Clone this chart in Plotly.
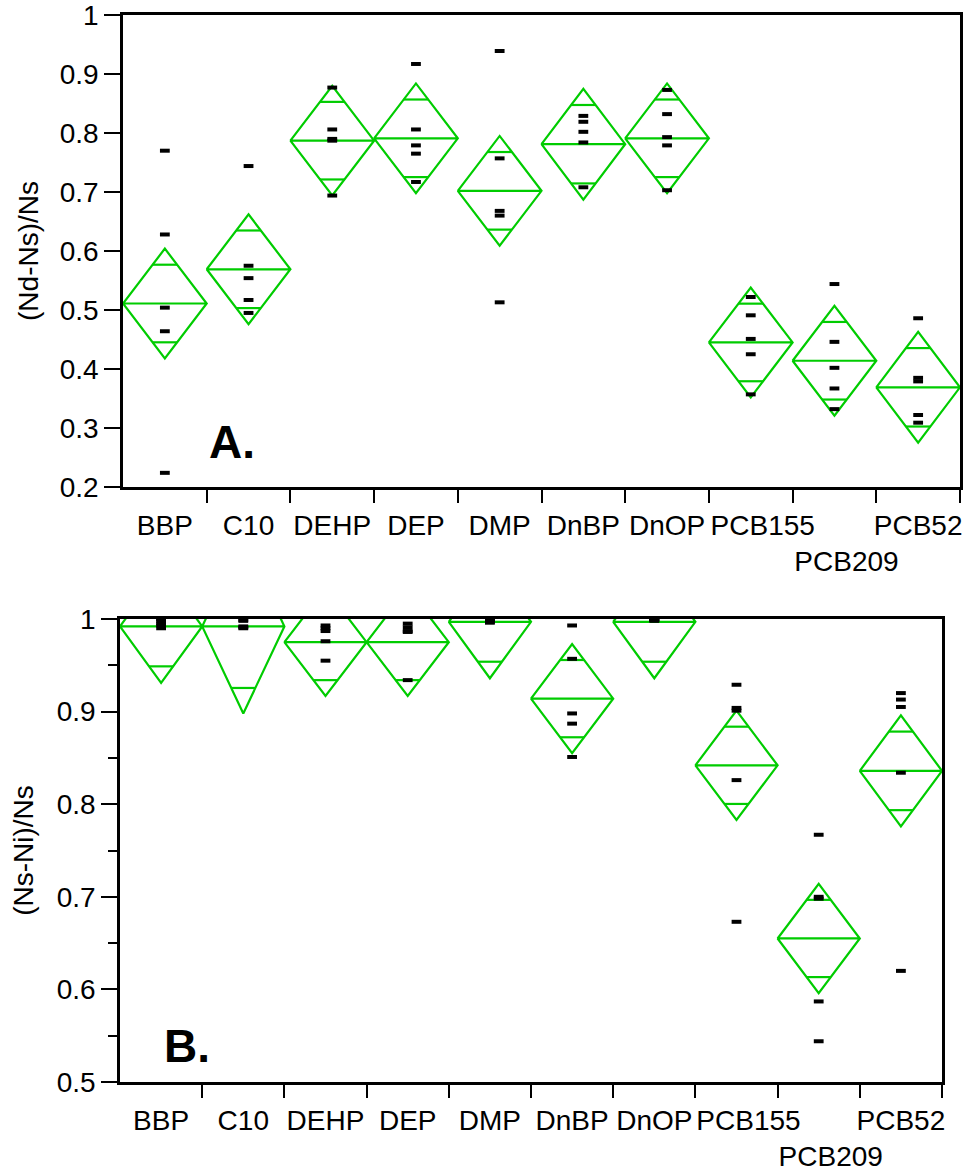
import math
import plotly.graph_objects as go

# ---------------- data ----------------
categories = ["BBP", "C10", "DEHP", "DEP", "DMP", "DnBP", "DnOP", "PCB155", "PCB209", "PCB52"]
# JMP staggers the crowded labels: PCB209 sits on a second row and
# PCB155 / PCB209 are nudged right so they do not collide with DnOP
label_row = [0, 0, 0, 0, 0, 0, 0, 0, 1, 0]
label_nudged = [False] * 7 + [True, True, False]

# Panel A: (Nd-Ns)/Ns
a_means = [0.511, 0.569, 0.787, 0.791, 0.702, 0.781, 0.791, 0.445, 0.414, 0.369]
a_halfci = [0.093, 0.093, 0.093, 0.093, 0.093, 0.094, 0.093, 0.093, 0.093, 0.094]
a_points = [
    [0.770, 0.628, 0.504, 0.464, 0.224],
    [0.744, 0.575, 0.554, 0.517, 0.495],
    [0.877, 0.806, 0.790, 0.787, 0.694],
    [0.917, 0.806, 0.779, 0.765, 0.717],
    [0.939, 0.757, 0.668, 0.660, 0.513],
    [0.829, 0.819, 0.802, 0.784, 0.708],
    [0.873, 0.832, 0.793, 0.779, 0.703],
    [0.522, 0.491, 0.451, 0.425, 0.357],
    [0.544, 0.446, 0.402, 0.367, 0.332],
    [0.486, 0.385, 0.379, 0.322, 0.309],
]
a_ticks = [0.2, 0.3, 0.4, 0.5, 0.6, 0.7, 0.8, 0.9, 1.0]
a_ticktext = ["0.2", "0.3", "0.4", "0.5", "0.6", "0.7", "0.8", "0.9", "1"]

# Panel B: (Ns-Ni)/Ns
b_means = [0.992, 0.992, 0.975, 0.975, 0.997, 0.914, 0.997, 0.842, 0.655, 0.836]
b_halfci = [0.061, 0.094, 0.058, 0.058, 0.061, 0.059, 0.061, 0.059, 0.059, 0.060]
b_points = [
    [1.000, 0.998, 0.995, 0.993, 0.990],
    [0.999, 0.998, 0.992, 0.991, 0.990],
    [0.993, 0.990, 0.987, 0.976, 0.955],
    [0.995, 0.991, 0.987, 0.986, 0.934],
    [1.000, 0.999, 0.998, 0.997, 0.996],
    [0.993, 0.957, 0.898, 0.887, 0.851],
    [1.000, 1.000, 0.999, 0.999, 0.998],
    [0.929, 0.904, 0.901, 0.826, 0.673],
    [0.767, 0.700, 0.698, 0.587, 0.544],
    [0.920, 0.913, 0.905, 0.834, 0.620],
]
b_ticks = [0.5, 0.6, 0.7, 0.8, 0.9, 1.0]
b_ticktext = ["0.5", "0.6", "0.7", "0.8", "0.9", "1"]

# ---------------- styling ----------------
GREEN = "#00CC00"
FONT = "Liberation Sans, Arial, sans-serif"
W, H = 973, 1174


def diamond_xy(means, halfci):
    xs, ys = [], []
    k = 1 / math.sqrt(2)
    for i, (m, h) in enumerate(zip(means, halfci)):
        # diamond outline + mean line
        xs += [i - 0.5, i, i + 0.5, i, i - 0.5, i + 0.5, None]
        ys += [m, m + h, m, m - h, m, m, None]
        # overlap marks
        hw = 0.5 * (1 - k)
        for s in (1, -1):
            xs += [i - hw, i + hw, None]
            ys += [m + s * h * k, m + s * h * k, None]
    return xs, ys


def points_xy(points):
    xs, ys = [], []
    for i, vals in enumerate(points):
        for v in vals:
            xs.append(i)
            ys.append(v)
    return xs, ys


fig = go.Figure()

for means, halfci, pts, xa, ya, xn in [
    (a_means, a_halfci, a_points, "x", "y", "x3"),
    (b_means, b_halfci, b_points, "x2", "y2", "x4"),
]:
    dx, dy = diamond_xy(means, halfci)
    fig.add_trace(go.Scatter(x=dx, y=dy, mode="lines", xaxis=xa, yaxis=ya,
                             line=dict(color=GREEN, width=2.2), hoverinfo="skip",
                             showlegend=False))
    px_, py_ = points_xy(pts)
    fig.add_trace(go.Scatter(x=px_, y=py_, mode="markers", xaxis=xa, yaxis=ya,
                             marker=dict(symbol="line-ew", size=7,
                                         line=dict(color="black", width=4)),
                             cliponaxis=False, showlegend=False))
    # empty trace so that the overlaid label axis is drawn
    fig.add_trace(go.Scatter(x=[None], y=[None], xaxis=xn, yaxis=ya, mode="markers",
                             hoverinfo="skip", showlegend=False))

n = len(categories)
boundaries = [i + 0.5 for i in range(n)]
centers = list(range(n))


def label(i):
    return ("<br>" * label_row[i]) + categories[i]


main_text = ["" if label_nudged[i] else label(i) for i in range(n)]
nudge_vals = [i for i in range(n) if label_nudged[i]]
nudge_text = [label(i) for i in nudge_vals]

tickfont = dict(family=FONT, size=28, color="black")
xcommon = dict(
    range=[-0.5, n - 0.5], tickmode="array", tickvals=centers,
    ticktext=main_text, ticks="", tickangle=0, automargin=False,
    ticklabelstandoff=12,
    showline=True, linecolor="black",
    linewidth=2.5, mirror=True, showgrid=False, zeroline=False,
    tickfont=tickfont,
    minor=dict(tickmode="array", tickvals=boundaries, ticks="outside",
               ticklen=13, tickwidth=2, tickcolor="black", showgrid=False),
)
xnudge = dict(
    range=[-0.5, n - 0.5], tickmode="array", tickvals=nudge_vals,
    ticktext=nudge_text, ticks="", tickangle=0, automargin=False,
    ticklabelstandoff=19, ticklabelshift=12, side="bottom",
    showline=False, showgrid=False, zeroline=False, tickfont=tickfont,
)
ycommon = dict(
    tickmode="array", ticks="outside", ticklen=16, tickwidth=2, tickcolor="black",
    showline=True, linecolor="black", linewidth=2.5, mirror=True, automargin=False,
    ticklabeloverflow="allow",
    showgrid=False, zeroline=False,
    tickfont=tickfont,
)

fig.update_layout(
    template="none",
    width=W, height=H,
    margin=dict(l=0, r=0, t=0, b=0, autoexpand=False),
    paper_bgcolor="white", plot_bgcolor="white",
    font=dict(family=FONT, color="black"),
    xaxis=dict(domain=[123 / W, 960 / W], anchor="y", **xcommon),
    xaxis3=dict(overlaying="x", anchor="y", **xnudge),
    yaxis=dict(domain=[1 - 487 / H, 1 - 15 / H], anchor="x", range=[0.2, 1.0],
               tickvals=a_ticks, ticktext=a_ticktext,
               title=dict(text="(Nd-Ns)/Ns", font=dict(family=FONT, size=28), standoff=13),
               **ycommon),
    xaxis2=dict(domain=[120 / W, 942 / W], anchor="y2", **xcommon),
    xaxis4=dict(overlaying="x2", anchor="y2", **xnudge),
    yaxis2=dict(domain=[1 - 1082 / H, 1 - 619 / H], anchor="x2", range=[0.5, 1.0],
                tickvals=b_ticks, ticktext=b_ticktext,
                minor=dict(tickmode="linear", tick0=0.5, dtick=0.05, ticks="outside",
                           ticklen=9, tickwidth=2, tickcolor="black", showgrid=False),
                title=dict(text="(Ns-Ni)/Ns", font=dict(family=FONT, size=28), standoff=15),
                **ycommon),
    annotations=[
        dict(text="<b>A.</b>", xref="x domain", yref="y domain", x=(207 - 123) / 837,
             y=(487 - 442.5) / 472, xanchor="left", yanchor="middle", showarrow=False,
             font=dict(family=FONT, size=46, color="black")),
        dict(text="<b>B.</b>", xref="x2 domain", yref="y2 domain", x=(162 - 120) / 822,
             y=(1082 - 1046) / 463, xanchor="left", yanchor="middle", showarrow=False,
             font=dict(family=FONT, size=46, color="black")),
    ],
)

fig.write_html("out.html")
